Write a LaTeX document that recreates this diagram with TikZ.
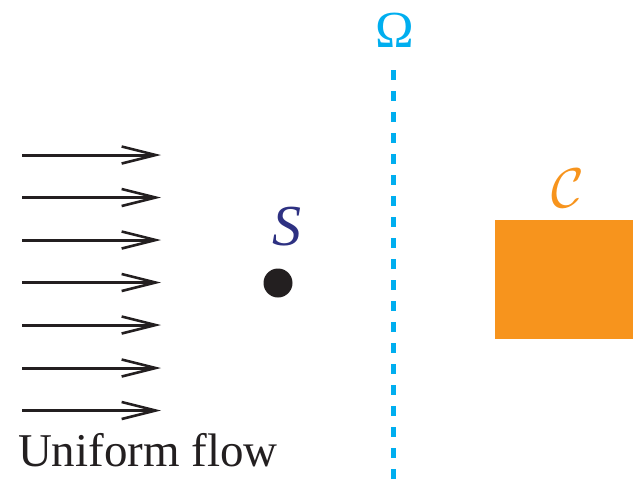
\documentclass[tikz,border=0pt]{standalone}
\usepackage{fontspec}
\setmainfont{Liberation Serif}
\usetikzlibrary{arrows.meta}
\definecolor{flowblack}{HTML}{231F20}
\definecolor{sourceblue}{HTML}{2E3182}
\definecolor{omegacyan}{HTML}{00AEEF}
\definecolor{bodyorange}{HTML}{F7941D}
\tikzset{
  flowarrow/.style={draw=flowblack, line width=3pt,
    -{Straight Barb[length=34pt, width=17pt, line width=2.6pt]}},
  label/.style={inner sep=0pt, outer sep=0pt}
}
\begin{document}
\begin{tikzpicture}[x=1pt, y=-1pt]
  \useasboundingbox (0,0) rectangle (633,483);
  % uniform incoming flow
  \foreach \i/\yy in {1/155, 2/197.5, 3/240, 4/282.5, 5/325, 6/368, 7/410.5} {
    \coordinate (tail\i) at (22,\yy);
    \coordinate (head\i) at (161,\yy);
    \draw[flowarrow] (tail\i) -- (head\i);
  }
  \node[label, anchor=base west, font=\fontsize{47}{50}\selectfont, text=flowblack]
    (flowlabel) at (18,466) {Uniform flow};
  % point source
  \fill[flowblack] (278,283) circle (14.5pt);
  \node[label, anchor=base, font=\fontsize{58}{60}\selectfont\itshape, text=sourceblue]
    (srclabel) at (287,245) {S};
  % interface Omega
  \coordinate (omtop) at (393,70);
  \coordinate (ombot) at (393,483);
  \draw[omegacyan, line width=5pt, dash pattern=on 10pt off 11pt] (omtop) -- (ombot);
  \node[label, anchor=base, font=\fontsize{52}{54}\selectfont, text=omegacyan]
    (omlabel) at (395,47) {Ω};
  % controlled region C (math fonts stop at \Huge, so the node is scaled up)
  \fill[bodyorange] (495,220) rectangle (633,339);
  \node[label, anchor=base, font=\Huge, scale=2.25, text=bodyorange]
    (clabel) at (568,207) {$\mathcal{C}$};
\end{tikzpicture}
\end{document}
